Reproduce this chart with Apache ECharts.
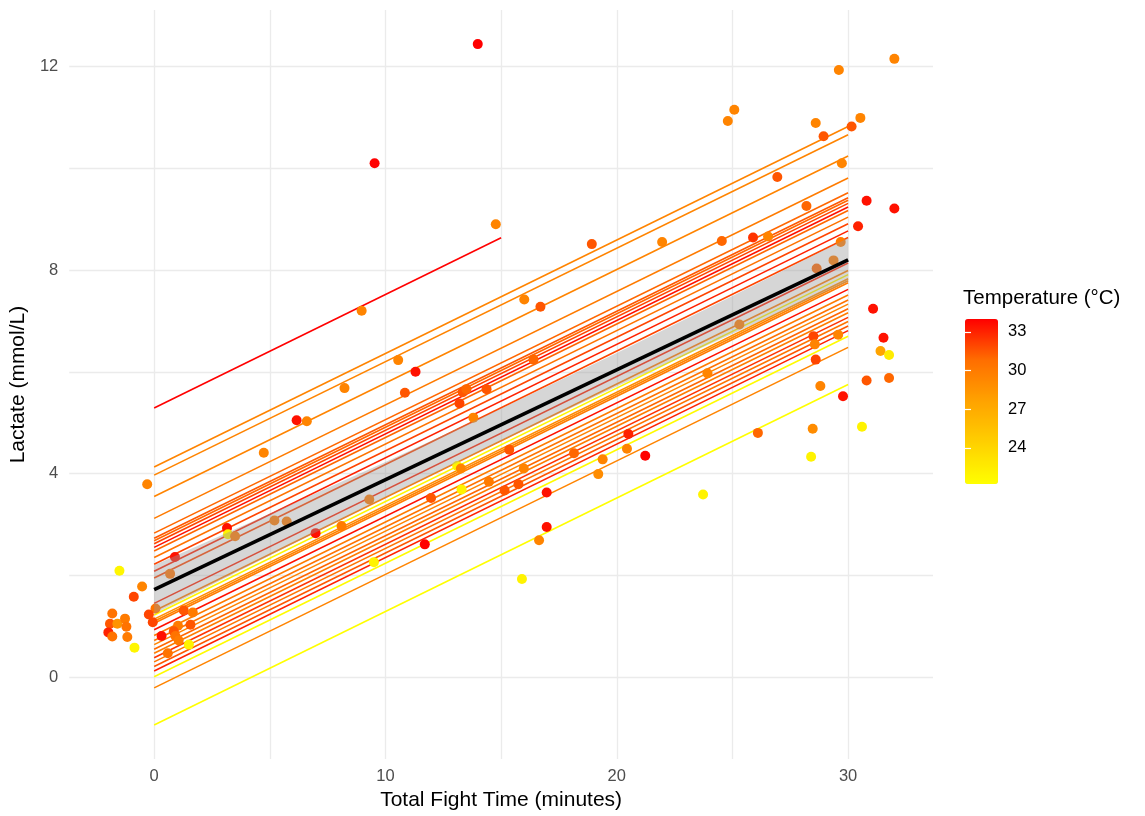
<!DOCTYPE html>
<html>
<head>
<meta charset="utf-8">
<script src="https://cdn.jsdelivr.net/npm/echarts@6/dist/echarts.min.js"></script>
<style>
  html, body { margin: 0; padding: 0; background: #ffffff; }
  #chart { width: 1145px; height: 816px; }
</style>
</head>
<body>
<div id="chart"></div>
<script>
// ---------- data ----------
const xTicks = [0, 10, 20, 30];
const xGrid = [0, 5, 10, 15, 20, 25, 30];
const yTicks = [0, 4, 8, 12];
const yGrid = [0, 2, 4, 6, 8, 10, 12];
const tempTicks = [24, 27, 30, 33];
const tempMin = 21.2;
const tempMax = 34;
const tempColors = ['#FFFF00', '#FFD000', '#FFA300', '#FF6E00', '#FF0000'];

// individual fitted lines (value at time 0, temperature, last time)
const lineIntercepts = [5.29, 4.13, 3.97, 3.55, 3.12, 2.83, 2.73, 2.68, 2.62, 2.55, 2.48, 2.35, 2.22, 2.08, 1.95, 1.45, 1.30, 1.22, 1.14, 1.10, 1.06, 0.93, 0.82, 0.72, 0.64, 0.55, 0.47, 0.38, 0.30, 0.21, 0.12, 0.01, -0.21, -0.94];
const lineTemps =      [34.0, 29.5, 29.5, 29.5, 30.0, 31.0, 31.5, 31.0, 32.0, 33.5, 31.0, 30.5, 32.0, 33.0, 32.0, 33.0, 30.0, 21.8, 29.0, 29.5, 30.0, 33.5, 30.0, 30.5, 29.5, 31.0, 30.0, 32.5, 30.5, 31.5, 33.0, 21.5, 29.5, 21.3];
const lineEnds =       [15, 30, 30, 30, 30, 30, 30, 30, 30, 30, 30, 30, 30, 30, 30, 30, 30, 30, 30, 30, 30, 30, 30, 30, 30, 30, 30, 30, 30, 30, 30, 30, 30, 30];
const lineSlope = 0.223;

// overall fit and its confidence band
const fitIntercept = 1.72;
const fitSlope = 0.216;
const bandX =    [0, 5, 10, 15, 20, 25, 30];
const bandHalf = [0.48, 0.41, 0.35, 0.32, 0.33, 0.37, 0.43];

// observations
const pointTime = [-1.5, -0.52, -0.88, -0.3, -1.81, -1.91, -1.59, -1.26, -1.2, -1.98, -1.81, -1.16, -0.85, 0.06, -0.23, -0.06, 0.9, 0.69, 1.28, 1.67, 1.57, 1.03, 0.85, 0.32, 0.92, 1.06, 0.59, 1.5,
  3.15, 3.19, 3.5, 5.2, 5.73, 4.74, 6.16, 6.6, 8.23, 8.97, 10.55, 6.98, 8.1, 9.3, 9.5, 9.53, 13.99, 14.77, 16.0, 16.7, 11.3, 10.84, 16.4, 13.34, 13.5, 13.2, 14.37, 13.8,
  25.3, 28.5, 28.56, 29.57, 28.6, 31.08, 31.53, 31.4, 31.77, 30.8, 31.77, 28.8, 29.78, 23.92, 26.1, 28.47, 28.4, 30.6, 23.73, 21.23, 20.5, 20.44, 19.39, 19.2, 18.15, 15.35, 15.98, 15.75, 15.15, 14.47, 16.97, 16.97, 16.64, 13.1, 13.26, 13.29, 11.97, 11.7, 15.9,
  18.92, 21.96, 24.8, 25.08, 24.54, 25.89, 26.54, 26.94, 28.2, 28.6, 28.94, 29.6, 29.73, 30.15, 30.53, 32.0, 30.8, 30.43, 32.0, 29.68, 29.37, 28.64];
const pointLactate = [2.09, 1.78, 1.58, 3.79, 1.25, 1.05, 1.05, 1.15, 0.99, 0.88, 0.8, 0.79, 0.58, 1.35, 1.23, 1.08, 2.36, 2.03, 1.31, 1.27, 1.03, 1.01, 0.9, 0.81, 0.81, 0.72, 0.47, 0.64,
  2.93, 2.81, 2.77, 3.08, 3.06, 4.41, 5.05, 5.03, 5.68, 7.2, 6.23, 2.83, 2.97, 3.49, 2.26, 10.1, 12.44, 8.9, 7.42, 7.28, 6.0, 5.59, 6.24, 5.6, 5.66, 5.38, 5.66, 5.1,
  6.93, 6.7, 6.54, 6.73, 6.24, 7.24, 6.67, 6.41, 6.33, 5.83, 5.88, 5.72, 5.52, 5.97, 4.8, 4.88, 4.33, 4.92, 3.59, 4.35, 4.78, 4.49, 4.28, 3.99, 4.4, 4.47, 4.1, 3.79, 3.67, 3.84, 3.63, 2.95, 2.69, 4.15, 4.1, 3.69, 3.52, 2.61, 1.93,
  8.51, 8.55, 10.93, 11.15, 8.57, 8.64, 8.66, 9.83, 9.26, 10.89, 10.63, 11.93, 10.1, 10.82, 10.99, 12.15, 9.36, 8.86, 9.21, 8.55, 8.19, 8.03];
const pointTemp = [21.8, 29.5, 32.0, 29.5, 30.5, 31.5, 28.5, 30.0, 30.5, 33.0, 30.5, 30.0, 21.8, 30.5, 32.0, 32.0, 33.5, 30.5, 31.5, 30.0, 31.5, 30.0, 31.5, 33.5, 30.5, 30.0, 30.5, 22.0,
  33.5, 22.0, 30.0, 30.0, 30.0, 29.5, 33.5, 29.5, 29.5, 29.5, 29.5, 33.5, 30.0, 30.0, 22.0, 34.0, 34.0, 29.5, 29.5, 31.5, 33.5, 31.5, 31.0, 31.5, 31.0, 32.0, 31.5, 29.5,
  30.0, 32.0, 29.5, 29.5, 32.0, 33.5, 33.5, 27.5, 22.5, 31.5, 31.0, 29.5, 33.5, 29.5, 31.0, 29.0, 22.0, 22.0, 22.0, 34.0, 33.0, 29.5, 29.5, 29.0, 31.0, 31.5, 29.5, 31.5, 31.5, 30.0, 33.5, 33.5, 29.5, 22.0, 29.5, 22.0, 31.5, 34.0, 22.0,
  31.5, 29.5, 29.5, 29.5, 31.0, 32.5, 29.5, 31.5, 31.0, 29.5, 31.5, 29.5, 29.5, 31.5, 29.5, 29.5, 33.5, 33.0, 33.5, 30.0, 30.0, 31.0];

// ---------- helpers ----------
function hexToRgb(h) {
  const n = parseInt(h.slice(1), 16);
  return [(n >> 16) & 255, (n >> 8) & 255, n & 255];
}
function tempColor(t) {
  let f = (t - tempMin) / (tempMax - tempMin);
  f = Math.max(0, Math.min(1, f));
  const seg = f * (tempColors.length - 1);
  const i = Math.min(Math.floor(seg), tempColors.length - 2);
  const r = seg - i;
  const a = hexToRgb(tempColors[i]), b = hexToRgb(tempColors[i + 1]);
  const c = a.map((v, k) => Math.round(v + (b[k] - v) * r));
  return 'rgb(' + c.join(',') + ')';
}

// ---------- series ----------
const FONT = '"Liberation Sans", Arial, sans-serif';
const series = [];

series.push({
  type: 'scatter', xAxisIndex: 0, yAxisIndex: 0, z: 0,
  data: [[0, 0]], symbolSize: 0, silent: true,
  markLine: {
    silent: true, symbol: ['none', 'none'], animation: false, z: 0,
    label: { show: false },
    lineStyle: { color: '#ebebeb', width: 1.3, type: 'solid' },
    data: yGrid.map(v => ({ yAxis: v })).concat(xGrid.map(v => ({ xAxis: v })))
  }
});

lineIntercepts.forEach((a, i) => {
  const end = lineEnds[i];
  series.push({
    type: 'line', xAxisIndex: 0, yAxisIndex: 0, z: 2,
    data: [[0, a], [end, a + lineSlope * end]],
    symbol: 'none', silent: true,
    lineStyle: { color: tempColor(lineTemps[i]), width: 1.6 }
  });
});

const scatterIndex = series.length;
series.push({
  type: 'scatter', xAxisIndex: 0, yAxisIndex: 0, z: 3,
  symbolSize: 10,
  data: pointTime.map((x, i) => [x, pointLactate[i], pointTemp[i]]),
  itemStyle: { opacity: 1 }
});

// confidence band as a polygon through the axis scales
series.push({
  type: 'custom', xAxisIndex: 0, yAxisIndex: 0, z: 4, silent: true,
  data: bandX.map((x, i) => [x, fitIntercept + fitSlope * x - bandHalf[i], fitIntercept + fitSlope * x + bandHalf[i]]),
  encode: { x: 0, y: [1, 2] },
  renderItem: function (params, api) {
    if (params.dataIndex !== 0) return null;
    const upper = [], lower = [];
    for (let i = 0; i < bandX.length; i++) {
      const c = fitIntercept + fitSlope * bandX[i];
      upper.push(api.coord([bandX[i], c + bandHalf[i]]));
      lower.push(api.coord([bandX[i], c - bandHalf[i]]));
    }
    return {
      type: 'polygon',
      shape: { points: upper.concat(lower.reverse()) },
      style: { fill: 'rgba(153,153,153,0.4)' }
    };
  }
});

series.push({
  type: 'line', xAxisIndex: 0, yAxisIndex: 0, z: 5, symbol: 'none', silent: true,
  data: [[0, fitIntercept], [30, fitIntercept + fitSlope * 30]],
  lineStyle: { color: '#000000', width: 3.6 }
});

const chart = echarts.init(document.getElementById('chart'), null, { renderer: 'canvas' });
chart.setOption({
  animation: false,
  backgroundColor: '#ffffff',
  textStyle: { fontFamily: FONT },
  title: {
    text: 'Temperature (°C)', left: 963, top: 288, padding: 0,
    textStyle: { fontFamily: FONT, fontSize: 20.5, fontWeight: 'normal', color: '#000000' }
  },
  grid: [
    { left: 68, top: 10, width: 865, height: 753 },
    { left: 965, top: 319, width: 33, height: 165 }
  ],
  xAxis: [
    {
      type: 'value', gridIndex: 0, min: -3.67, max: 33.67,
      axisLine: { show: false }, axisTick: { show: false }, splitLine: { show: false },
      axisLabel: { customValues: xTicks, color: '#4d4d4d', fontSize: 16.5, margin: 9, fontFamily: FONT },
      name: 'Total Fight Time (minutes)', nameLocation: 'middle', nameGap: 29,
      nameTextStyle: { color: '#000000', fontSize: 21, fontFamily: FONT }
    },
    { type: 'value', gridIndex: 1, min: 0, max: 1, show: false }
  ],
  yAxis: [
    {
      type: 'value', gridIndex: 0, min: -1.61, max: 13.11,
      axisLine: { show: false }, axisTick: { show: false }, splitLine: { show: false },
      axisLabel: { customValues: yTicks, color: '#4d4d4d', fontSize: 16.5, margin: 11, fontFamily: FONT },
      name: 'Lactate (mmol/L)', nameLocation: 'middle', nameGap: 31,
      nameTextStyle: { color: '#000000', fontSize: 21, fontFamily: FONT }
    },
    {
      type: 'value', gridIndex: 1, position: 'right', min: tempMin, max: tempMax, z: 10,
      axisLine: { show: false }, splitLine: { show: false },
      axisTick: { show: true, inside: true, length: 6, customValues: tempTicks, lineStyle: { color: '#ffffff', width: 1.2 } },
      axisLabel: { customValues: tempTicks, color: '#000000', fontSize: 16.5, margin: 10, fontFamily: FONT }
    },
    {
      type: 'value', gridIndex: 1, position: 'left', min: tempMin, max: tempMax, z: 10,
      axisLine: { show: false }, splitLine: { show: false },
      axisTick: { show: true, inside: true, length: 6, customValues: tempTicks, lineStyle: { color: '#ffffff', width: 1.2 } },
      axisLabel: { show: false }
    }
  ],
  visualMap: {
    type: 'continuous', seriesIndex: scatterIndex, dimension: 2, z: 1,
    min: tempMin, max: tempMax, calculable: false, realtime: false, hoverLink: false,
    left: 965, top: 319, itemWidth: 33, itemHeight: 165, padding: 0,
    showLabel: false, text: null,
    inRange: { color: tempColors }
  },
  series: series
});
</script>
</body>
</html>
